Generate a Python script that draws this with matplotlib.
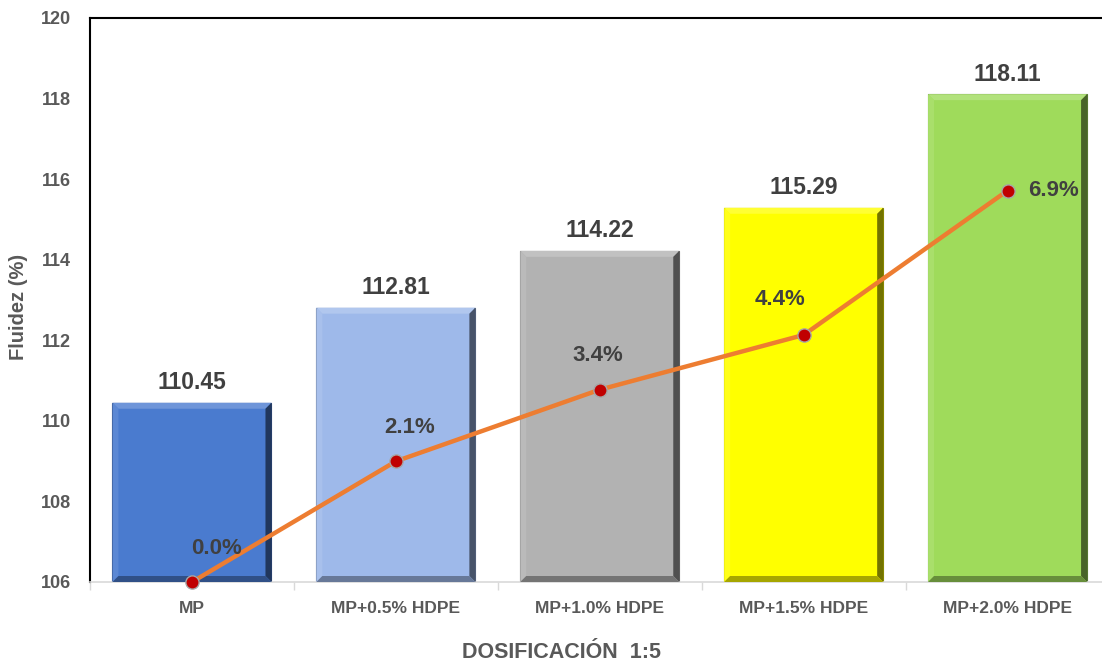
import numpy as np
import matplotlib
matplotlib.use("Agg")
import matplotlib.pyplot as plt
from matplotlib.patches import Polygon
from matplotlib.colors import to_rgb

# data
categories = ["MP", "MP+0.5% HDPE", "MP+1.0% HDPE", "MP+1.5% HDPE", "MP+2.0% HDPE"]
fluidez = [110.45, 112.81, 114.22, 115.29, 118.11]
incremento = [0.0, 2.14, 3.41, 4.38, 6.94]
yticks = [106, 108, 110, 112, 114, 116, 118, 120]

# style
bar_colors = ["#4A7BCF", "#9EB9EA", "#B2B2B2", "#FFFF00", "#9FDB5B"]
pct_offsets = [(25, 34), (14, 34), (-2, 34), (-24, 35), (46, 0)]  # pixels
txt = "#404040"
plt.rcParams['font.family'] = ['Liberation Sans', 'DejaVu Sans']
PX = 72 / 100.0


def shade(c, f):
    c = np.array(to_rgb(c))
    if f > 0:
        return tuple(c + (1 - c) * f)
    return tuple(c * (1 + f))


fig = plt.figure(figsize=(11.02, 6.64), dpi=100)
ax = fig.add_axes([90 / 1102, 82 / 664, 1019.5 / 1102, 564 / 664])
x = np.arange(len(categories))
w = 0.78
ymin, ymax = 106, 120

ax.set_xlim(-0.5, len(categories) - 0.5)
ax.set_ylim(ymin, ymax)

# bevel size in data units (about 6 px)
bx = 6 * (len(categories)) / 1019.5
by = 6 * (ymax - ymin) / 564

for xi, v, c in zip(x, fluidez, bar_colors):
    l, r = xi - w / 2, xi + w / 2
    ax.bar(xi, v - ymin, bottom=ymin, width=w, color=c, edgecolor=shade(c, -0.45),
           linewidth=0.8, zorder=2)
    top = [(l, v), (r, v), (r - bx, v - by), (l + bx, v - by)]
    left = [(l, v), (l + bx, v - by), (l + bx, ymin + by), (l, ymin)]
    right = [(r, v), (r - bx, v - by), (r - bx, ymin + by), (r, ymin)]
    bot = [(l, ymin), (l + bx, ymin + by), (r - bx, ymin + by), (r, ymin)]
    for pts, f in [(top, 0.2), (left, 0.1), (right, -0.55), (bot, -0.35)]:
        ax.add_patch(Polygon(pts, closed=True, facecolor=shade(c, f), edgecolor='none', zorder=3))
    ax.annotate(f"{v:.2f}", (xi, v), xytext=(0, 20 * PX), textcoords='offset points',
                ha='center', va='center', fontsize=16.5, fontweight='bold', color=txt)

ax.set_xticks(x)
ax.set_xticklabels(categories, fontsize=12.5, fontweight='bold', color='#595959')
ax.set_xticks(np.arange(-0.5, len(categories) + 0.5, 1), minor=True)
ax.tick_params(axis='x', which='major', length=0, pad=14)
ax.tick_params(axis='x', which='minor', length=6, color='#D9D9D9', width=1)
ax.set_yticks(yticks)
ax.set_yticklabels([str(t) for t in yticks], fontsize=13, fontweight='bold', color='#595959')
ax.tick_params(axis='y', length=0, pad=14)

ax.spines['right'].set_visible(False)
ax.spines['left'].set_linewidth(1.5)
ax.spines['top'].set_linewidth(1.5)
ax.spines['bottom'].set_color('#D9D9D9')
ax.spines['bottom'].set_linewidth(1.2)

ax.set_ylabel("Fluidez (%)", fontsize=14.5, fontweight='bold', color='#595959')
ax.yaxis.set_label_coords(-62 / 1019.5, (664 - 307 - 82) / 564)
ax.set_xlabel("DOSIFICACIÓN  1:5", fontsize=15.5, fontweight='bold', color='#595959')
ax.xaxis.set_label_coords((562 - 90) / 1019.5, -(642 - 582) / 564)

# secondary axis for increase line
ax2 = ax.twinx()
ax2.set_ylim(0, 10)
ax2.axis('off')
ax2.plot(x, incremento, color='#ED7D31', linewidth=3.2, zorder=4, solid_capstyle='round')
ax2.plot(x, incremento, 'o', markersize=9.5, markerfacecolor='#C00000',
         markeredgecolor='#A6A6A6', markeredgewidth=1, zorder=5, clip_on=False)
for xi, p, off in zip(x, incremento, pct_offsets):
    ax2.annotate(f"{p:.1f}%", (xi, p), xytext=(off[0] * PX, off[1] * PX), textcoords='offset points',
                 ha='center', va='center', fontsize=16, fontweight='bold', color=txt, zorder=6)

fig.savefig("out.png", dpi=100)
